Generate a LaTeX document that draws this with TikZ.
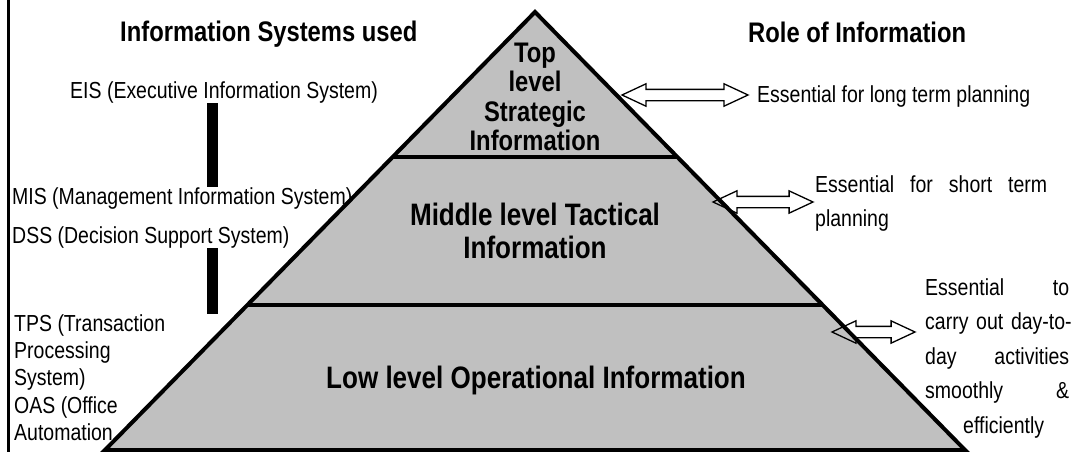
\documentclass[tikz,border=0pt]{standalone}
\usepackage{fontspec}
\setmainfont{Liberation Sans}[FakeStretch=0.84]
\usetikzlibrary{calc}
\usetikzlibrary{shapes.arrows}
\definecolor{pyrgray}{HTML}{C0C0C0}
\tikzset{
  sysname/.style={inner sep=0pt, align=left, font=\fontsize{23.2}{27.3}\selectfont},
  roletext/.style={inner sep=0pt, align=left, font=\fontsize{23.2}{34.5}\selectfont},
  heading/.style={inner sep=0pt, font=\bfseries\fontsize{28.3}{34}\selectfont},
  toplabel/.style={inner sep=0pt, align=center, font=\bfseries\fontsize{28.3}{29.5}\selectfont},
  levellabel/.style={inner sep=0pt, align=center, font=\bfseries\fontsize{31}{33}\selectfont},
  twoway/.style={double arrow, draw, line width=1.3pt, inner xsep=0pt, inner ysep=5pt,
    minimum width=0pt, double arrow head extend=5.5pt, double arrow tip angle=50},
  bar/.style={line width=11pt},
  edge/.style={line width=4pt}
}

\begin{document}
\begin{tikzpicture}[x=1pt,y=-1pt]
\useasboundingbox (0,0) rectangle (1073,452);
\draw[line width=3pt] (8,0) -- (8,452);
\node[heading, anchor=base west] (syshead) at (120,42) {Information Systems used};
\node[heading, anchor=base west] (rolehead) at (748,43) {Role of Information};
\node[sysname, anchor=base west] (eis) at (70,98) {EIS (Executive Information System)};
\node[sysname, anchor=base west] (mis) at (12,204) {MIS (Management Information System)};
\node[sysname, anchor=base west] (dss) at (12,243) {DSS (Decision Support System)};
\node[sysname, anchor=north west] (tps) at (14,314.1)
  {TPS (Transaction\\Processing\\System)\\OAS (Office\\Automation};
\coordinate (barx) at (212.5,0);
\draw[bar] (eis.south -| barx) -- (mis.north -| barx);
\draw[bar] (dss.south -| barx) -- (tps.north -| barx);
\coordinate (apex) at (535,12);
\coordinate (bl) at (105,450);
\coordinate (br) at (965,450);
\draw[edge, fill=pyrgray, line join=miter] (apex) -- (br) -- (bl) -- cycle;
\draw[edge] ($(apex)!0.331!(bl)$) -- ($(apex)!0.331!(br)$);
\draw[edge] ($(apex)!0.669!(bl)$) -- ($(apex)!0.669!(br)$);
\node[toplabel, anchor=north] (toplevel) at (535,42.7) {Top\\level\\Strategic\\Information};
\node[levellabel, anchor=north] (midlevel) at (535,202.4) {Middle level Tactical\\Information};
\node[levellabel, anchor=base] (lowlevel) at (536,388) {Low level Operational Information};
\node[twoway, minimum height=126pt] (longarrow) at (685,95) {};
\node[twoway, minimum height=100pt] (shortarrow) at (763,202) {};
\node[twoway, minimum height=83pt] (dayarrow) at (873.5,332) {};
\node[roletext, anchor=base west] (longrole) at (757,102) {Essential for long term planning};
\node[roletext, anchor=north west, text width=232pt] (shortrole) at (815,175.1)
  {Essential\hfill for\hfill short\hfill term\\planning};
\node[roletext, anchor=north west, text width=144pt] (dayrole) at (925,278.1)
  {Essential\hfill to\\\mbox{carry out day-to-}\\day\hfill activities\\smoothly\hfill \&\\\hspace*{38pt}efficiently};
\end{tikzpicture}
\end{document}
